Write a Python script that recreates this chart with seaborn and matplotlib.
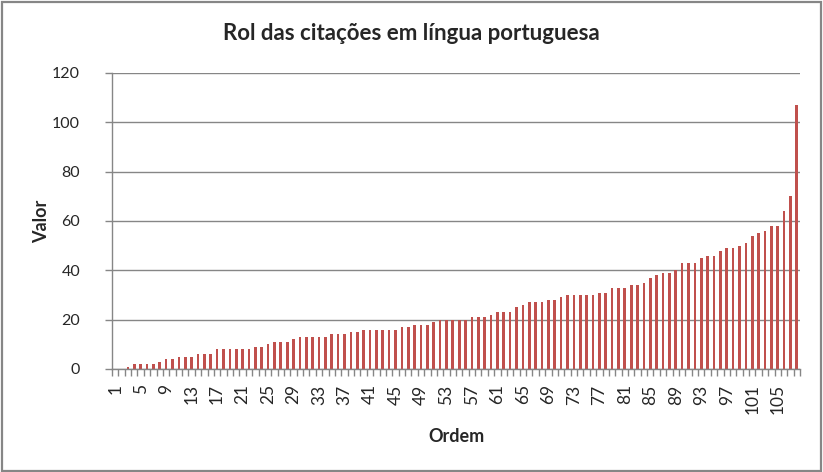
import numpy as np
import pandas as pd
import matplotlib
matplotlib.use("Agg")
import matplotlib.pyplot as plt
import seaborn as sns
from matplotlib.patches import Rectangle
from matplotlib.ticker import FixedLocator

# values, one per rank (1..108)
valores = [0, 0, 1, 2, 2, 2, 2, 3, 4, 4,
           5, 5, 5, 6, 6, 6, 8, 8, 8, 8,
           8, 8, 9, 9, 10, 11, 11, 11, 12, 13,
           13, 13, 13, 13, 14, 14, 14, 15, 15, 16,
           16, 16, 16, 16, 16, 17, 17, 18, 18, 18,
           19, 20, 20, 20, 20, 20, 21, 21, 21, 22,
           23, 23, 23, 25, 26, 27, 27, 27, 28, 28,
           29, 30, 30, 30, 30, 30, 31, 31, 33, 33,
           33, 34, 34, 35, 37, 38, 39, 39, 40, 43,
           43, 43, 45, 46, 46, 48, 49, 49, 50, 51,
           54, 55, 56, 58, 58, 64, 70, 107]
ordem = list(range(1, len(valores) + 1))
y_ticks = [0, 20, 40, 60, 80, 100, 120]

titulo = "Rol das citações em língua portuguesa"
x_label = "Ordem"
y_label = "Valor"

sns.set_style("white")
plt.rcParams["font.family"] = ["Lato", "DejaVu Sans"]

df = pd.DataFrame({"ordem": [str(o) for o in ordem], "valor": valores})

fig = plt.figure(figsize=(8.23, 4.72), dpi=100)
ax = fig.add_axes([112 / 823, 1 - 369 / 472, 688 / 823, 296 / 472])
ax.set_axisbelow(True)

sns.barplot(data=df, x="ordem", y="valor", color="#C0504D", saturation=1,
            width=0.42, linewidth=0, ax=ax)

grey = "#868686"
ax.set_ylim(0, 120)
ax.set_xlim(-0.5, len(valores) - 0.5)
ax.set_yticks(y_ticks)
ax.set_yticklabels([str(t) for t in y_ticks], fontsize=11.5)
ax.yaxis.grid(True, color=grey, linewidth=1)

# labels every 4th rank, tick marks at category boundaries
pos = list(range(0, len(valores), 4))
ax.set_xticks(pos)
ax.set_xticklabels([str(ordem[p]) for p in pos], rotation=90, fontsize=12.5)
ax.xaxis.set_minor_locator(FixedLocator(np.arange(-0.5, len(valores), 1)))
ax.tick_params(axis="x", which="major", length=0, pad=11)
ax.tick_params(axis="x", which="minor", length=5, color=grey, width=1,
               bottom=True)
ax.tick_params(axis="y", which="major", length=5, color=grey, width=1, pad=18,
               left=True)

for s in ["top", "right"]:
    ax.spines[s].set_visible(False)
for s in ["left", "bottom"]:
    ax.spines[s].set_color(grey)
    ax.spines[s].set_linewidth(1)

ax.set_xlabel(x_label, fontsize=13, fontweight="bold")
ax.set_ylabel(y_label, fontsize=13, fontweight="bold")
ax.xaxis.set_label_coords(0.5, -(428 - 369) / 296)
ax.yaxis.set_label_coords(-(112 - 50) / 688, 0.5)

fig.text(0.5, 1 - 33 / 472, titulo, ha="center", va="center", fontsize=16,
         fontweight="bold")

fig.patches.append(Rectangle((1.5 / 823, 1 - 470.5 / 472), 819.5 / 823, 469 / 472,
                             transform=fig.transFigure, fill=False,
                             edgecolor=grey, linewidth=1.6))

fig.savefig("out.png", dpi=100)
